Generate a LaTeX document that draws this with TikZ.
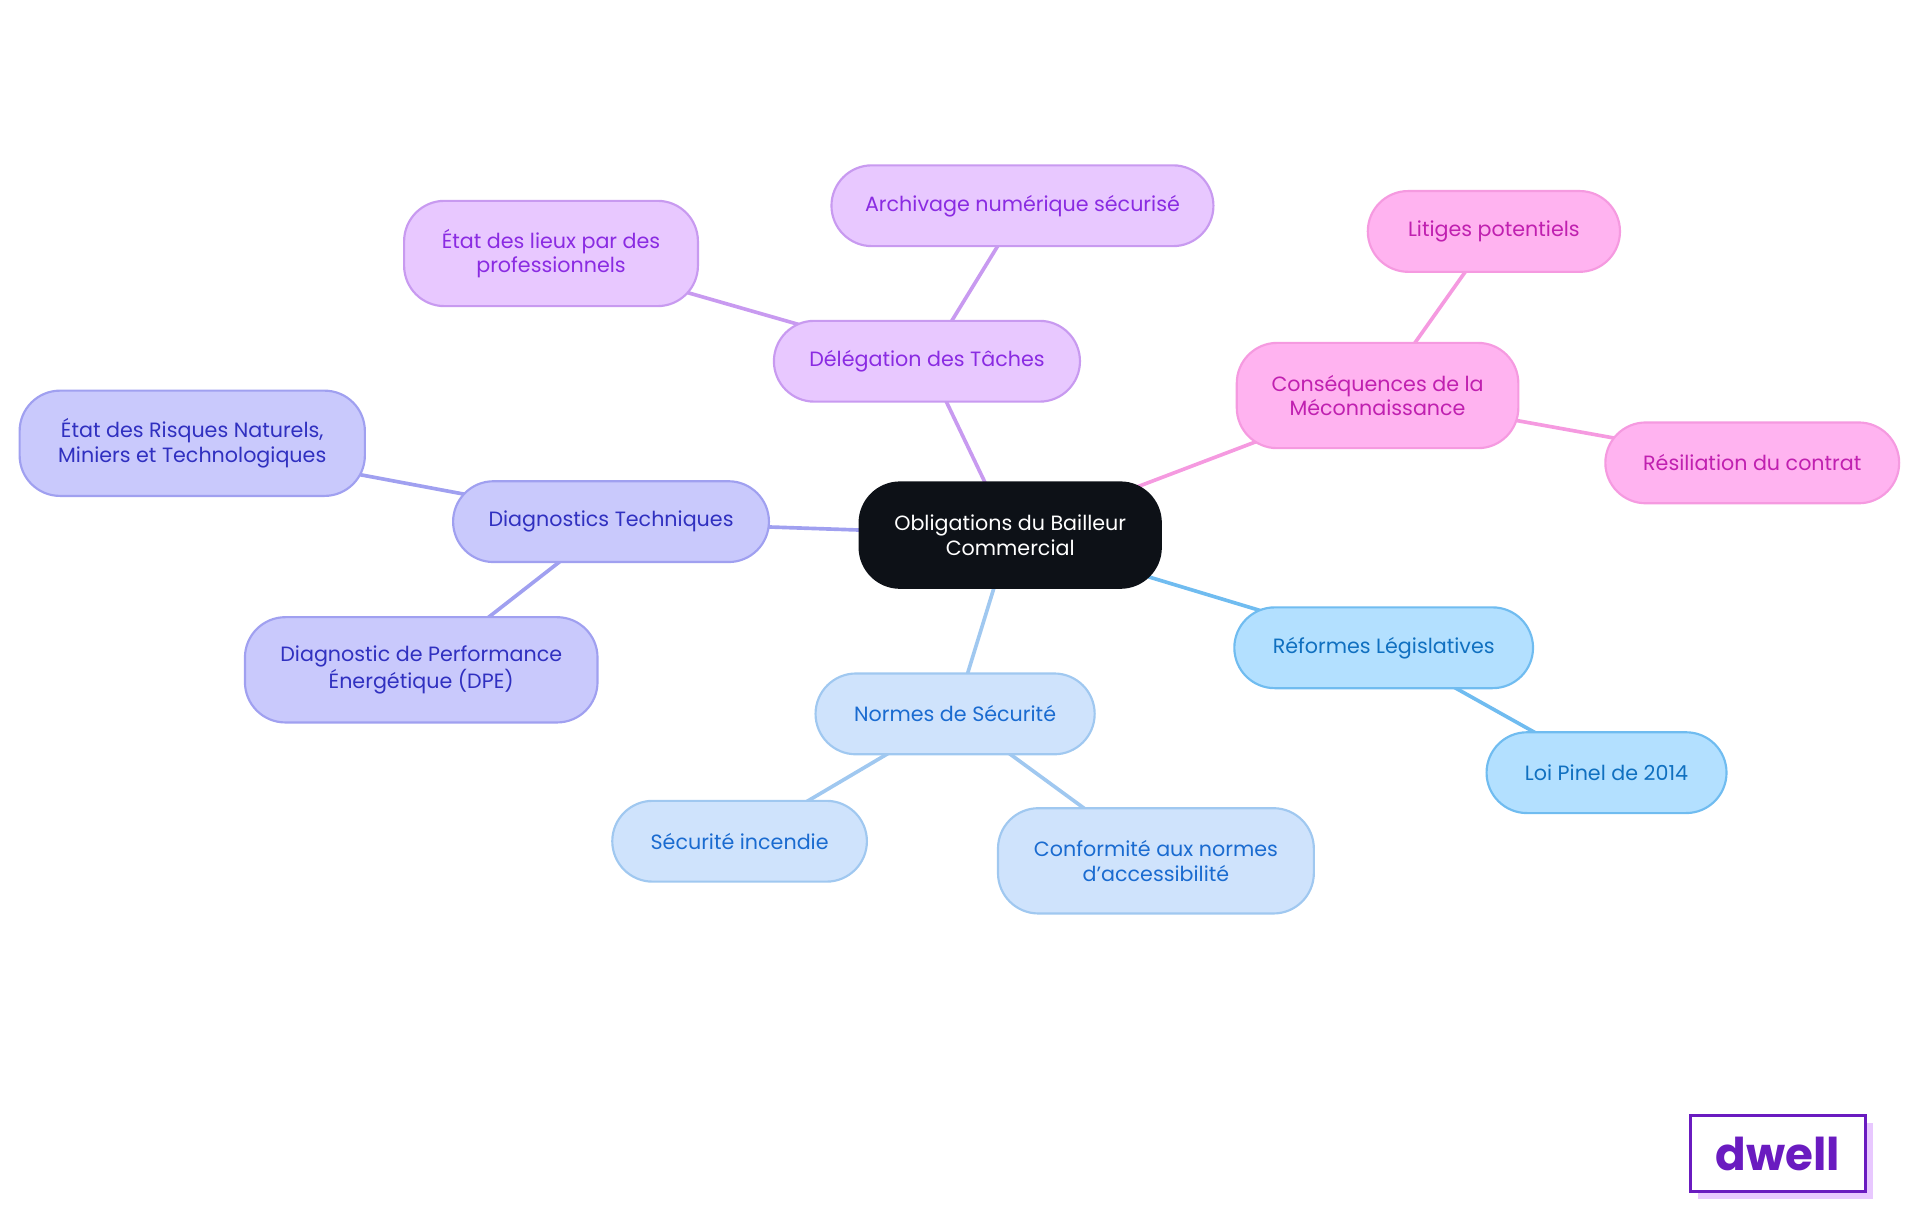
\documentclass[tikz,border=0pt]{standalone}
\usepackage{fontspec}
\setmainfont{Poppins}
\usetikzlibrary{positioning, backgrounds}
\definecolor{darknode}{HTML}{0D1117}
\definecolor{lilacfill}{HTML}{E8C8FF}
\definecolor{lilacline}{HTML}{C89AF0}
\definecolor{lilactext}{HTML}{8A2BE2}
\definecolor{pinkfill}{HTML}{FFB3F0}
\definecolor{pinkline}{HTML}{F59AE0}
\definecolor{pinktext}{HTML}{C020B0}
\definecolor{violetfill}{HTML}{C9C9FC}
\definecolor{violetline}{HTML}{A0A0F0}
\definecolor{violettext}{HTML}{3030C0}
\definecolor{bluefill}{HTML}{CFE3FC}
\definecolor{blueline}{HTML}{A0C8F0}
\definecolor{bluetext}{HTML}{1A6BD0}
\definecolor{skyfill}{HTML}{B3E0FF}
\definecolor{skyline}{HTML}{70BCF0}
\definecolor{skytext}{HTML}{1070C0}
\definecolor{dwellpurple}{HTML}{6A1BC0}
\begin{document}
\begin{tikzpicture}[x=0.02cm, y=-0.02cm,
  box/.style={rounded corners=0.66cm, align=center, font=\fontsize{9.6}{11.5}\selectfont, inner sep=0pt, line width=1pt},
  lilac/.style={box, fill=lilacfill, draw=lilacline, text=lilactext},
  pink/.style={box, fill=pinkfill, draw=pinkline, text=pinktext},
  violet/.style={box, fill=violetfill, draw=violetline, text=violettext},
  blue/.style={box, fill=bluefill, draw=blueline, text=bluetext},
  sky/.style={box, fill=skyfill, draw=skyline, text=skytext},
  link/.style={line width=1.7pt}]
  \useasboundingbox (0,0) rectangle (1568,992);

  % Centre
  \node[box, fill=darknode, draw=darknode, text=white, minimum width=4.92cm, minimum height=1.72cm] (root) at (825,437) {Obligations du Bailleur\\Commercial};

  % Délégation des tâches
  \node[lilac, minimum width=5cm, minimum height=1.32cm] (deleg) at (757,295) {Délégation des Tâches};
  \node[lilac, minimum width=6.24cm, minimum height=1.32cm] (archive) at (835,168) {Archivage numérique sécurisé};
  \node[lilac, minimum width=4.8cm, minimum height=1.72cm] (lieux) at (450,207) {État des lieux par des\\professionnels};

  % Conséquences
  \node[pink, minimum width=4.6cm, minimum height=1.72cm] (consq) at (1125,323) {Conséquences de la\\Méconnaissance};
  \node[pink, minimum width=4.12cm, minimum height=1.32cm] (litiges) at (1220,189) {Litiges potentiels};
  \node[pink, minimum width=4.8cm, minimum height=1.32cm] (resil) at (1431,378) {Résiliation du contrat};

  % Diagnostics
  \node[violet, minimum width=5.16cm, minimum height=1.32cm] (diag) at (499,426) {Diagnostics Techniques};
  \node[violet, minimum width=5.64cm, minimum height=1.72cm] (risques) at (157,362) {État des Risques Naturels,\\Miniers et Technologiques};
  \node[violet, minimum width=5.76cm, minimum height=1.72cm] (dpe) at (344,547) {Diagnostic de Performance\\Énergétique (DPE)};

  % Normes
  \node[blue, minimum width=4.56cm, minimum height=1.32cm] (normes) at (780,583) {Normes de Sécurité};
  \node[blue, minimum width=4.16cm, minimum height=1.32cm] (incendie) at (604,687) {Sécurité incendie};
  \node[blue, minimum width=5.16cm, minimum height=1.72cm] (access) at (944,703) {Conformité aux normes\\d'accessibilité};

  % Réformes
  \node[sky, minimum width=4.88cm, minimum height=1.32cm] (reformes) at (1130,529) {Réformes Législatives};
  \node[sky, minimum width=3.92cm, minimum height=1.32cm] (pinel) at (1312,631) {Loi Pinel de 2014};

  % Connectors
  \begin{scope}[on background layer]
    \draw[link, lilacline] (root.center) -- (deleg.center);
    \draw[link, lilacline] (deleg.center) -- (archive.center);
    \draw[link, lilacline] (deleg.center) -- (lieux.center);
    \draw[link, pinkline] (root.center) -- (consq.center);
    \draw[link, pinkline] (consq.center) -- (litiges.center);
    \draw[link, pinkline] (consq.center) -- (resil.center);
    \draw[link, violetline] (root.center) -- (diag.center);
    \draw[link, violetline] (diag.center) -- (risques.center);
    \draw[link, violetline] (diag.center) -- (dpe.center);
    \draw[link, blueline] (root.center) -- (normes.center);
    \draw[link, blueline] (normes.center) -- (incendie.center);
    \draw[link, blueline] (normes.center) -- (access.center);
    \draw[link, skyline] (root.center) -- (reformes.center);
    \draw[link, skyline] (reformes.center) -- (pinel.center);
  \end{scope}

  % Logo
  \fill[lilacfill] (1387,917) rectangle (1530,979);
  \node[draw=dwellpurple, fill=white, line width=1.6pt, minimum width=2.86cm, minimum height=1.24cm, inner sep=0pt, text=dwellpurple, font=\bfseries\fontsize{21}{21}\selectfont] (logo) at (1452,942) {dwell};
\end{tikzpicture}
\end{document}
